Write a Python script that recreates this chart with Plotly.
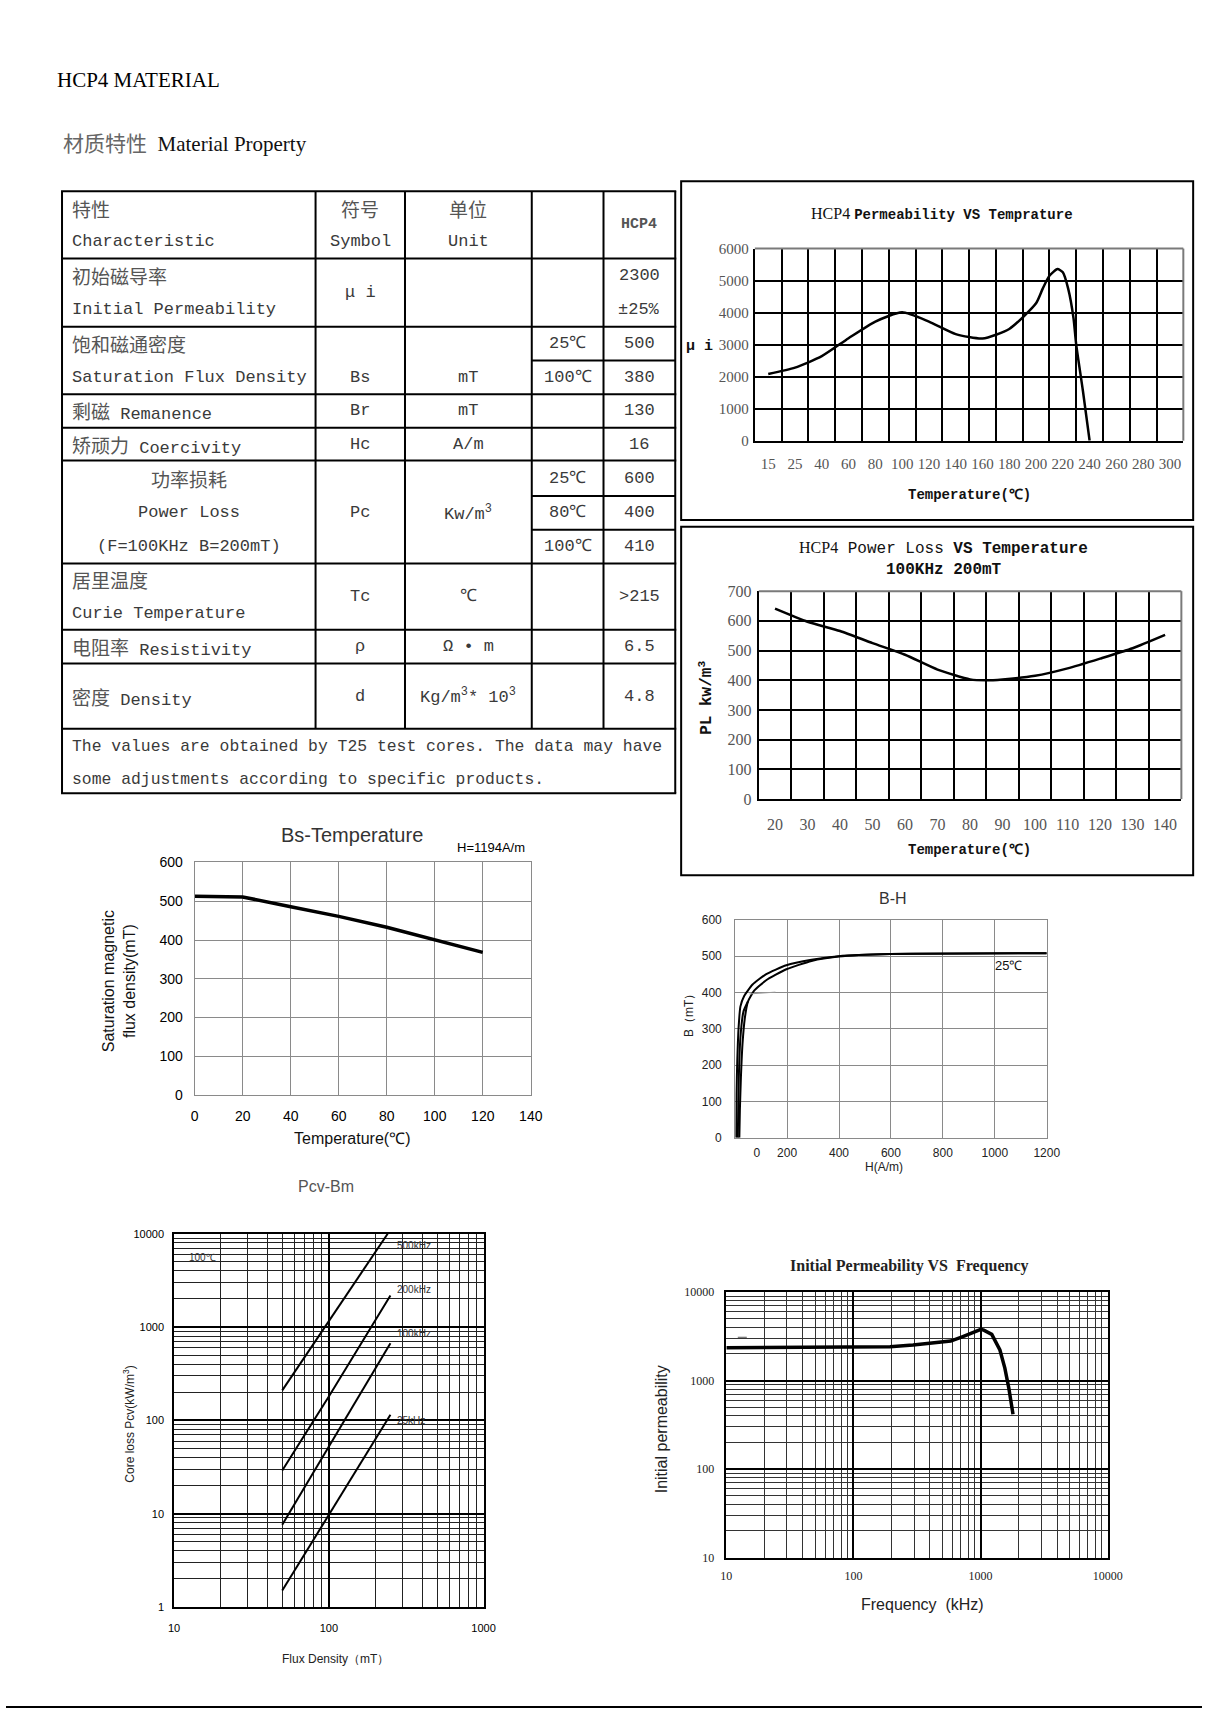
import re
import numpy as np
import plotly.graph_objects as go

PAGE_W, PAGE_H = 1217, 1718
SERIF = "Liberation Serif"
SANS = "Liberation Sans"
MONO = "Liberation Mono"
CJK = "Noto Sans CJK SC"

# ---------------- text content ----------------
page_title = "HCP4 MATERIAL"
section_cn = "材质特性"
section_en = "Material Property"

tbl_char = [["特性", "Characteristic"], ["初始磁导率", "Initial Permeability"],
            ["饱和磁通密度", "Saturation Flux Density"], ["剩磁 Remanence"], ["矫顽力 Coercivity"],
            ["功率损耗", "Power Loss", "(F=100KHz B=200mT)"], ["居里温度", "Curie Temperature"],
            ["电阻率 Resistivity"], ["密度 Density"]]
tbl_symbol = [["符号", "Symbol"], ["μ i"], ["", "Bs"], ["Br"], ["Hc"], ["", "Pc", ""], ["Tc"], ["ρ"], ["d"]]
tbl_unit = [["单位", "Unit"], [""], ["", "mT"], ["mT"], ["A/m"], ["", "Kw/m<sup>3</sup>", ""], ["℃"],
            ["Ω • m"], ["Kg/m<sup>3</sup>* 10<sup>3</sup>"]]
tbl_cond = [[], [], ["25℃", "100℃"], [], [], ["25℃", "80℃", "100℃"], [], [], []]
tbl_value = [["<b>HCP4</b>"], ["2300", "±25%"], ["500", "380"], ["130"], ["16"], ["600", "400", "410"],
             [">215"], ["6.5"], ["4.8"]]
tbl_note = ["The values are obtained by T25 test cores. The data may have",
            "some adjustments according to specific products."]

# ---------------- chart data ----------------
# HCP4 Permeability VS Temperature
perm_tick_labels = [15, 25, 40, 60, 80, 100, 120, 140, 160, 180, 200, 220, 240, 260, 280, 300]
perm_temp = [15, 25, 40, 60, 80, 100, 120, 140, 160, 180, 200, 205, 210, 216, 220, 224, 228, 230, 235, 240]
perm_mu = [2080, 2280, 2640, 3200, 3720, 4010, 3720, 3330, 3190, 3490, 4290, 4750, 5150, 5360, 5260,
           4750, 3820, 3000, 1560, 0]

# HCP4 Power Loss VS Temperature (100kHz 200mT)
pl_tick_labels = [20, 30, 40, 50, 60, 70, 80, 90, 100, 110, 120, 130, 140]
pl_temp = [20, 30, 40, 50, 60, 70, 80, 85, 90, 100, 110, 120, 130, 140]
pl_val = [641, 597, 566, 525, 486, 436, 403, 400, 403, 415, 440, 473, 508, 553]

# Bs - Temperature
bs_temp = [0, 20, 40, 60, 80, 100, 120]
bs_val = [513, 511, 486, 461, 433, 401, 368]

# B-H loop (25C)
bh_upper_H = [4, 5, 8, 13, 20, 35, 67, 118, 197, 294, 398, 597, 1200]
bh_upper_B = [0, 121, 211, 302, 361, 391, 422, 450, 475, 490, 500, 506, 508]
bh_lower_H = [16, 18, 22, 28, 37, 49, 73, 118, 197, 294, 398, 597, 1200]
bh_lower_B = [0, 75, 166, 257, 329, 375, 405, 433, 464, 487, 499, 506, 508]
bh_init_H = [10, 12, 14, 20, 32, 49]
bh_init_B = [0, 90, 166, 275, 348, 375]
bh_gray_H = [55, 100, 155]
bh_gray_B = [396, 398, 401]

# Pcv - Bm (100C)
pcv_names = ["500kHz", "200kHz", "100kHz", "25kHz"]
pcv_B = [[50, 100, 240], [50, 100, 250], [50, 100, 250], [50, 100, 250]]
pcv_P = [[210, 1160, 10000], [29, 180, 2180], [7.6, 52, 670], [1.5, 9.8, 115]]

# Initial permeability vs frequency
ip_freq = [10, 80, 194, 294, 396, 582, 717, 857, 1006, 1060, 1225, 1420, 1553, 1667, 1800]
ip_mu = [2360, 2370, 2420, 2530, 2640, 2800, 3130, 3420, 3790, 3720, 3330, 2220, 1386, 829, 416]
ip_dash_f = [12.3, 16]
ip_dash_mu = [3090, 3090]

# ---------------- helpers ----------------
annotations, shapes = [], []


def X(p):
    return p / PAGE_W


def Y(p):
    return 1 - p / PAGE_H


def add_text(text, x, y, size, family, color="#000", xanchor="center", yanchor="middle", angle=0):
    annotations.append(dict(text=text, x=X(x), y=Y(y), xref="paper", yref="paper", showarrow=False,
                            font=dict(size=size, family=family, color=color), xanchor=xanchor,
                            yanchor=yanchor, textangle=angle, borderpad=0))


def add_line(x0, y0, x1, y1, width=2, color="#000"):
    shapes.append(dict(type="line", xref="paper", yref="paper", x0=X(x0), y0=Y(y0), x1=X(x1), y1=Y(y1),
                       line=dict(color=color, width=width)))


def add_rect(x0, y0, x1, y1, width=2, color="#000"):
    shapes.append(dict(type="rect", xref="paper", yref="paper", x0=X(x0), y0=Y(y0), x1=X(x1), y1=Y(y1),
                       line=dict(color=color, width=width)))


def cjk(s, size=19):
    return re.sub(r'([\u4e00-\u9fff]+)',
                  r'<span style="font-family:Noto Sans CJK SC;font-size:%dpx;color:#555">\1</span>' % size, s)


# ---------------- page text ----------------
add_text(page_title, 51, 73, 21, SERIF, "#000", xanchor="left")
add_text('<span style="font-family:Noto Sans CJK SC;color:#666">%s</span>  %s' % (section_cn, section_en),
         57, 135, 21, SERIF, "#111", xanchor="left")

# ---------------- table ----------------
col_x = [57, 315, 406, 535, 608, 681]
row_y = [185, 253, 322, 390, 424, 457, 561, 628, 662, 728, 793]
sub_rows = {2: [322, 356, 390], 5: [457, 493, 527, 561]}
centered_char_rows = {5}

for yy in row_y:
    add_line(col_x[0] - 1, yy, col_x[-1] + 1, yy)
for r, ys in sub_rows.items():
    for yy in ys[1:-1]:
        add_line(col_x[3], yy, col_x[-1], yy)
add_line(col_x[0], row_y[0], col_x[0], row_y[-1])
add_line(col_x[-1], row_y[0], col_x[-1], row_y[-1])
for xx in col_x[1:-1]:
    add_line(xx, row_y[0], xx, row_y[-2])


def slots(r, n):
    if r in sub_rows and n == len(sub_rows[r]) - 1:
        e = sub_rows[r]
        return [(e[i] + e[i + 1]) / 2 for i in range(n)]
    c = (row_y[r] + row_y[r + 1]) / 2
    return [c + (i - (n - 1) / 2) * 34 for i in range(n)]


TCOL = "#3a3a3a"
for r in range(len(tbl_char)):
    for txt, yy in zip(tbl_char[r], slots(r, len(tbl_char[r]))):
        if r in centered_char_rows:
            add_text(cjk(txt), (col_x[0] + col_x[1]) / 2, yy, 17, MONO, TCOL)
        else:
            add_text(cjk(txt), 66, yy, 17, MONO, TCOL, xanchor="left")
    for col, data in ((1, tbl_symbol), (2, tbl_unit), (3, tbl_cond), (4, tbl_value)):
        items = data[r]
        if not items:
            continue
        cx = (col_x[col] + col_x[col + 1]) / 2
        for txt, yy in zip(items, slots(r, len(items))):
            if txt:
                sz = 15 if txt.startswith("<b>") else 17
                add_text(cjk(txt), cx, yy, sz, MONO, "#555" if sz == 15 else TCOL)
for i, line in enumerate(tbl_note):
    add_text(line, 66, 746 + i * 33, 16.4, MONO, TCOL, xanchor="left")

# ---------------- axes ----------------
layout_axes = {}


def axis_pair(idx, px_x0, px_x1, px_y0, px_y1, xcfg, ycfg):
    xn = "xaxis" if idx == 1 else "xaxis%d" % idx
    yn = "yaxis" if idx == 1 else "yaxis%d" % idx
    xa = "x" if idx == 1 else "x%d" % idx
    ya = "y" if idx == 1 else "y%d" % idx
    layout_axes[xn] = dict(domain=[X(px_x0), X(px_x1)], anchor=ya, fixedrange=True, zeroline=False, **xcfg)
    layout_axes[yn] = dict(domain=[Y(px_y1), Y(px_y0)], anchor=xa, fixedrange=True, zeroline=False, **ycfg)
    return xa, ya


def gray_top_right(xa, ya, color="#7a7a7a", width=2):
    for (x0, y0, x1, y1) in ((0, 1, 1, 1), (1, 0, 1, 1)):
        shapes.append(dict(type="line", xref=xa + " domain", yref=ya + " domain", x0=x0, y0=y0, x1=x1, y1=y1,
                           line=dict(color=color, width=width)))


# ---- A: permeability vs temperature
add_rect(687, 175, 1208, 517, 2)
tfA = dict(family=SERIF, size=15, color="#555")
xA, yA = axis_pair(1, 762, 1198, 243, 437,
                   dict(range=[-0.5, len(perm_tick_labels) - 0.5], tickmode="array",
                        tickvals=list(range(len(perm_tick_labels))), ticktext=[str(v) for v in perm_tick_labels],
                        showgrid=False, showline=True, linecolor="black", linewidth=2, ticks="", tickfont=tfA,
                        ticklabelstandoff=8,
                        minor=dict(tickmode="linear", tick0=0.5, dtick=1, showgrid=True, gridcolor="black",
                                   gridwidth=1.5, ticks="")),
                   dict(range=[0, 6000], tickmode="linear", tick0=0, dtick=1000, showgrid=True, gridcolor="black",
                        gridwidth=1.5, showline=True, linecolor="black", linewidth=2, ticks="", tickfont=tfA,
                        ticklabelstandoff=1))
gray_top_right(xA, yA)
perm_pos = np.interp(perm_temp, perm_tick_labels, np.arange(len(perm_tick_labels)))
fig = go.Figure()
fig.add_trace(go.Scatter(x=perm_pos, y=perm_mu, mode="lines", xaxis=xA, yaxis=yA,
                         line=dict(color="black", width=2.5, shape="spline", smoothing=0.6), hoverinfo="skip"))
add_text('<span style="font-family:Liberation Serif;font-weight:normal;font-size:16px">HCP4 </span>'
         '<b>Permeability VS Temprature</b>', 952, 208, 14, MONO, "#111")
add_text("<b>μ i</b>", 706, 342, 15, MONO, "#111")
add_text("<b>Temperature(℃)</b>", 980, 492, 14, MONO, "#111")

# ---- B: power loss vs temperature
add_rect(687, 524, 1208, 876, 2)
tfB = dict(family=SERIF, size=16, color="#555")
xB, yB = axis_pair(2, 766, 1196, 589, 799,
                   dict(range=[-0.5, len(pl_tick_labels) - 0.5], tickmode="array",
                        tickvals=list(range(len(pl_tick_labels))), ticktext=[str(v) for v in pl_tick_labels],
                        showgrid=False, showline=True, linecolor="black", linewidth=2, ticks="", tickfont=tfB,
                        ticklabelstandoff=10,
                        minor=dict(tickmode="linear", tick0=0.5, dtick=1, showgrid=True, gridcolor="black",
                                   gridwidth=1.5, ticks="")),
                   dict(range=[0, 700], tickmode="linear", tick0=0, dtick=100, showgrid=True, gridcolor="black",
                        gridwidth=1.5, showline=True, linecolor="black", linewidth=2, ticks="", tickfont=tfB,
                        ticklabelstandoff=2))
gray_top_right(xB, yB)
pl_pos = np.interp(pl_temp, pl_tick_labels, np.arange(len(pl_tick_labels)))
fig.add_trace(go.Scatter(x=pl_pos, y=pl_val, mode="lines", xaxis=xB, yaxis=yB,
                         line=dict(color="black", width=2.5, shape="spline", smoothing=0.6), hoverinfo="skip"))
add_text('<span style="font-family:Liberation Serif;font-size:16px">HCP4</span> Power Loss <b>VS Temperature</b>',
         954, 546, 16, MONO, "#111")
add_text("<b>100KHz 200mT</b>", 954, 568, 16, MONO, "#111")
add_text("<b>PL kw/m<sup>3</sup></b>", 712, 697, 16, MONO, "#111", angle=-90)
add_text("<b>Temperature(℃)</b>", 980, 850, 14, MONO, "#111")

# ---- C: Bs - temperature
gC = "#8a8a8a"
tfC = dict(family=SANS, size=14, color="#000")
xC, yC = axis_pair(3, 192, 534, 863, 1098,
                   dict(range=[0, 140], tickmode="linear", tick0=0, dtick=20, showgrid=True, gridcolor=gC,
                        gridwidth=1, showline=True, mirror=True, linecolor=gC, linewidth=1, ticks="",
                        tickfont=tfC, ticklabelstandoff=8),
                   dict(range=[0, 600], tickmode="linear", tick0=0, dtick=100, showgrid=True, gridcolor=gC,
                        gridwidth=1, showline=True, mirror=True, linecolor=gC, linewidth=1, ticks="",
                        tickfont=tfC, ticklabelstandoff=8))
fig.add_trace(go.Scatter(x=bs_temp, y=bs_val, mode="lines", xaxis=xC, yaxis=yC,
                         line=dict(color="black", width=3.5), hoverinfo="skip"))
add_text("Bs-Temperature", 352, 835, 20, SANS, "#333")
add_text("H=1194A/m", 494, 848, 13, SANS, "#000")
add_text("Temperature(℃)", 352, 1142, 16, SANS, "#111")
add_text("Saturation magnetic<br>flux density(mT)", 115, 983, 16, SANS, "#111", angle=-90)

# ---- D: B-H
gD = "#8a8a8a"
tfD = dict(family=SANS, size=12, color="#222")
bh_tick_vals = [83, 200, 400, 600, 800, 1000, 1200]
bh_tick_text = ["0", "200", "400", "600", "800", "1000", "1200"]
xD, yD = axis_pair(4, 742, 1059, 921, 1141,
                   dict(range=[0, 1200], tickmode="array", tickvals=bh_tick_vals, ticktext=bh_tick_text,
                        showgrid=False, showline=True, mirror=True, linecolor=gD, linewidth=1, ticks="",
                        tickfont=tfD, ticklabelstandoff=4,
                        minor=dict(tickmode="linear", tick0=0, dtick=200, showgrid=True, gridcolor=gD,
                                   gridwidth=1, ticks="")),
                   dict(range=[0, 600], tickmode="linear", tick0=0, dtick=100, showgrid=True, gridcolor=gD,
                        gridwidth=1, showline=True, mirror=True, linecolor=gD, linewidth=1, ticks="",
                        tickfont=tfD, ticklabelstandoff=10))
for hh, bb in ((bh_upper_H, bh_upper_B), (bh_lower_H, bh_lower_B), (bh_init_H, bh_init_B)):
    fig.add_trace(go.Scatter(x=hh, y=bb, mode="lines", xaxis=xD, yaxis=yD,
                             line=dict(color="black", width=2, shape="spline", smoothing=0.5), hoverinfo="skip"))
fig.add_trace(go.Scatter(x=bh_gray_H, y=bh_gray_B, mode="lines", xaxis=xD, yaxis=yD,
                         line=dict(color="#999", width=1), hoverinfo="skip"))
add_text("B-H", 903, 899, 16, SANS, "#333")
add_text("H(A/m)", 893, 1171, 12, SANS, "#222")
add_text("B（mT）", 695, 1015, 12, SANS, "#222", angle=-90)
add_text("25℃", 1020, 967, 13, SANS, "#111")

# ---- E: Pcv - Bm
tfE = dict(family=SANS, size=11, color="#000")
xE, yE = axis_pair(5, 171, 486, 1238, 1615,
                   dict(type="log", range=[1, 3], tickmode="array", tickvals=[10, 100, 1000],
                        ticktext=["10", "100", "1000"], showgrid=True, gridcolor="black", gridwidth=1.5,
                        showline=True, mirror=True, linecolor="black", linewidth=1.5, ticks="", tickfont=tfE,
                        ticklabelstandoff=10,
                        minor=dict(dtick="D1", showgrid=True, gridcolor="#222", gridwidth=1.2, ticks="")),
                   dict(type="log", range=[0, 4], tickmode="array", tickvals=[1, 10, 100, 1000, 10000],
                        ticktext=["1", "10", "100", "1000", "10000"], showgrid=True, gridcolor="black",
                        gridwidth=1.5, showline=True, mirror=True, linecolor="black", linewidth=1.5, ticks="",
                        tickfont=tfE, ticklabelstandoff=6,
                        minor=dict(dtick="D1", showgrid=True, gridcolor="#222", gridwidth=1.2, ticks="")))
for bb, pp in zip(pcv_B, pcv_P):
    fig.add_trace(go.Scatter(x=bb, y=pp, mode="lines", xaxis=xE, yaxis=yE,
                             line=dict(color="black", width=2), hoverinfo="skip"))
add_text("Pcv-Bm", 326, 1190, 16, SANS, "#555")
for name, yy in zip(pcv_names, [1250, 1294, 1339, 1427]):
    add_text(name, 397, yy, 10, SANS, "#333", xanchor="left")
add_text("100℃", 185, 1262, 10, SANS, "#333", xanchor="left")
add_text("Flux Density（mT）", 335, 1667, 12, SANS, "#222")
add_text("Core loss Pcv(kW/m<sup>3</sup>)", 125, 1430, 12, SANS, "#222", angle=-90)

# ---- F: initial permeability vs frequency
tfF = dict(family=SERIF, size=12, color="#222")
xF, yF = axis_pair(6, 733, 1121, 1297, 1565,
                   dict(type="log", range=[1, 4], tickmode="array", tickvals=[10, 100, 1000, 10000],
                        ticktext=["10", "100", "1000", "10000"], showgrid=True, gridcolor="black", gridwidth=1.5,
                        showline=True, mirror=True, linecolor="black", linewidth=1.5, ticks="", tickfont=tfF,
                        ticklabelstandoff=6,
                        minor=dict(dtick="D1", showgrid=True, gridcolor="#333", gridwidth=1.1, ticks="")),
                   dict(type="log", range=[1, 4], tickmode="array", tickvals=[10, 100, 1000, 10000],
                        ticktext=["10", "100", "1000", "10000"], showgrid=True, gridcolor="black",
                        gridwidth=1.5, showline=True, mirror=True, linecolor="black", linewidth=1.5, ticks="",
                        tickfont=tfF, ticklabelstandoff=8,
                        minor=dict(dtick="D1", showgrid=True, gridcolor="#333", gridwidth=1.1, ticks="")))
fig.add_trace(go.Scatter(x=ip_freq, y=ip_mu, mode="lines", xaxis=xF, yaxis=yF,
                         line=dict(color="black", width=3.5), hoverinfo="skip"))
fig.add_trace(go.Scatter(x=ip_dash_f, y=ip_dash_mu, mode="lines", xaxis=xF, yaxis=yF,
                         line=dict(color="#555", width=1, dash="dash"), hoverinfo="skip"))
add_text("<b>Initial Permeability VS  Frequency</b>", 919, 1271, 16, SERIF, "#222")
add_text("Frequency  (kHz)", 933, 1612, 16, SANS, "#222")
add_text("Initial permeability", 667, 1435, 16, SANS, "#222", angle=-90)

# page bottom rule
add_line(0, 1716, PAGE_W, 1716, 2)

fig.update_layout(width=PAGE_W, height=PAGE_H, margin=dict(l=0, r=0, t=0, b=0), autosize=False,
                  paper_bgcolor="white", plot_bgcolor="white", showlegend=False,
                  annotations=annotations, shapes=shapes, **layout_axes)

fig.write_html("out.html", config={"displayModeBar": False, "responsive": False},
               post_script="document.body.style.margin='0';document.body.style.overflow='hidden';")
